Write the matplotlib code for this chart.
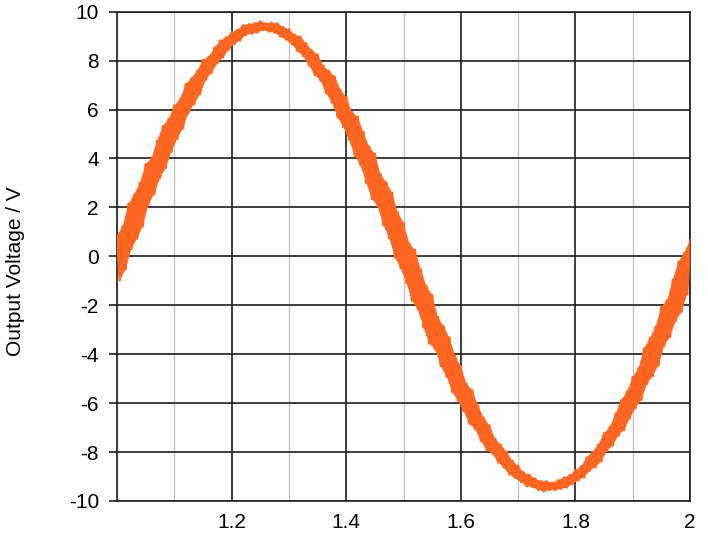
import matplotlib
matplotlib.use("Agg")
import matplotlib.pyplot as plt
from matplotlib.ticker import FormatStrFormatter, MultipleLocator
import numpy as np

# scope trace: upper edge at t = 1.00, 1.01 ... 2.00
v_peak = [0.85, 1.23, 2.14, 2.53, 3.00, 3.77, 3.99, 4.72, 5.32, 5.61,
          6.16, 6.42, 7.04, 7.28, 7.58, 8.03, 8.16, 8.53, 8.82, 8.94,
          9.16, 9.25, 9.45, 9.49, 9.53, 9.61, 9.53, 9.55, 9.52, 9.37,
          9.28, 9.06, 8.98, 8.71, 8.42, 8.25, 7.79, 7.58, 7.34, 6.81,
          6.50, 5.90, 5.70, 5.07, 4.48, 4.19, 3.35, 3.02, 2.60, 1.80,
          1.36, 0.53, 0.26, -0.53, -1.22, -1.59, -2.49, -2.86, -3.32, -4.07,
          -4.50, -5.21, -5.48, -6.10, -6.60, -6.91, -7.46, -7.71, -7.99, -8.36,
          -8.56, -8.84, -8.93, -9.09, -9.19, -9.19, -9.25, -9.15, -9.04, -8.95,
          -8.74, -8.58, -8.22, -7.99, -7.70, -7.23, -6.99, -6.44, -5.88, -5.53,
          -4.94, -4.58, -3.76, -3.35, -2.88, -2.07, -1.79, -0.96, -0.22, 0.14,
          0.65]
# lower edge at t = 1.005, 1.015 ... 1.995
v_trough = [-0.97, -0.52, 0.31, 0.73, 1.23, 2.13, 2.55, 3.21, 3.62, 4.28,
            4.81, 5.23, 5.88, 6.24, 6.64, 7.22, 7.51, 7.89, 8.13, 8.45,
            8.68, 8.83, 9.05, 9.10, 9.15, 9.25, 9.18, 9.14, 8.99, 8.86,
            8.67, 8.39, 8.19, 7.81, 7.42, 7.19, 6.67, 6.29, 5.69, 5.28,
            4.77, 4.11, 3.73, 3.01, 2.35, 2.05, 1.27, 0.76, -0.03, -0.48,
            -1.08, -1.82, -2.16, -2.91, -3.56, -3.79, -4.48, -4.90, -5.54, -5.89,
            -6.33, -6.84, -7.07, -7.54, -7.92, -8.06, -8.42, -8.63, -8.92, -9.06,
            -9.22, -9.40, -9.43, -9.55, -9.61, -9.55, -9.56, -9.50, -9.45, -9.31,
            -9.16, -9.03, -8.76, -8.61, -8.38, -7.95, -7.73, -7.33, -7.09, -6.61,
            -6.19, -5.86, -5.21, -4.89, -4.46, -3.65, -3.29, -2.64, -2.27, -1.55]

x_ticks = [1.2, 1.4, 1.6, 1.8, 2.0]
y_ticks = list(range(-10, 11, 2))

# interleave the two edges into one trace
n = len(v_peak)
t = np.linspace(1.0, 2.0, 2 * n - 1)
t_peak = t[0::2]
t_trough = t[1::2]
v = np.empty(2 * n - 1)
v[0::2] = v_peak
v[1::2] = v_trough

plt.rcParams['font.family'] = ['Liberation Sans', 'DejaVu Sans']
plt.rcParams['axes.unicode_minus'] = False

fig = plt.figure(figsize=(7.08, 5.5), dpi=100)
ax = fig.add_axes([0.1653, 0.0891, 0.8093, 0.8896])

orange = '#ff6622'
# solid band between the edges, ripple on top
ax.fill(np.concatenate([t_peak, t_trough[::-1]]),
        np.concatenate([v_peak, v_trough[::-1]]),
        color=orange, lw=0, zorder=3)
ax.plot(t, v, color=orange, lw=1.8, zorder=3)

ax.set_xlim(1.0, 2.0)
ax.set_ylim(-10, 10)
ax.set_xticks(x_ticks)
ax.set_yticks(y_ticks)
ax.xaxis.set_minor_locator(MultipleLocator(0.1))
ax.xaxis.set_major_formatter(FormatStrFormatter('%g'))

ax.grid(which='major', color='#1e1e1e', lw=1.2)
ax.grid(which='minor', axis='x', color='#c4c4c4', lw=1.0)
for s in ax.spines.values():
    s.set_color('#1e1e1e')
    s.set_linewidth(1.2)

ax.tick_params(axis='x', which='both', length=0, pad=9, labelsize=15)
ax.tick_params(axis='y', which='major', length=6, width=1.2, color='#1e1e1e',
               pad=7, labelsize=15)

ax.set_ylabel('Output Voltage / V', fontsize=15)
ax.yaxis.set_label_coords(-0.16, 0.47)

fig.savefig('out.png', dpi=100)
